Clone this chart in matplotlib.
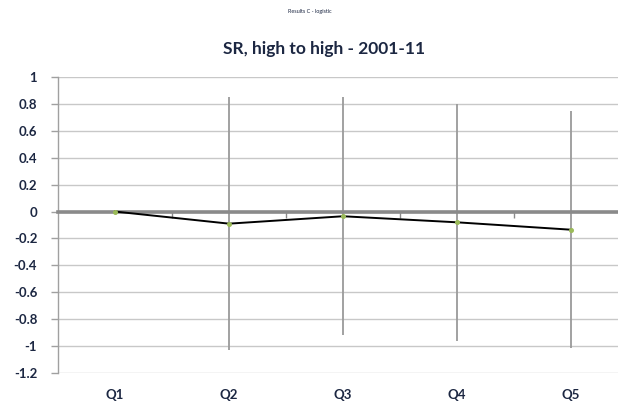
import matplotlib
matplotlib.use("Agg")
import matplotlib.pyplot as plt
from matplotlib.ticker import FixedLocator

plt.rcParams['font.family'] = ['Lato', 'DejaVu Sans']

categories = ["Q1", "Q2", "Q3", "Q4", "Q5"]
values = [0.0, -0.09, -0.035, -0.08, -0.135]
errors = [0.0, 0.94, 0.885, 0.88, 0.88]
yticks = [1, 0.8, 0.6, 0.4, 0.2, 0, -0.2, -0.4, -0.6, -0.8, -1, -1.2]
ytick_labels = ["1", "0.8", "0.6", "0.4", "0.2", "0", "-0.2", "-0.4", "-0.6", "-0.8", "-1", "-1.2"]
title = "SR, high to high - 2001-11"
header = "Results C - logistic"

W, H = 618, 404
fig = plt.figure(figsize=(W / 100, H / 100), dpi=100)
ax = fig.add_axes([58 / W, 1 - 373 / H, (W - 58) / W, (373 - 77) / H])

x = list(range(1, len(categories) + 1))
label_color = "#1c2742"

# error bars (only where non-zero)
ex = [xi for xi, e in zip(x, errors) if e > 0]
ev = [v for v, e in zip(values, errors) if e > 0]
ee = [e for e in errors if e > 0]
ax.errorbar(ex, ev, yerr=ee, fmt="none", ecolor="#9a9a9a", elinewidth=1.3, capsize=0, zorder=2)

ax.plot(x, values, color="black", lw=1.4, zorder=4,
        marker="o", markersize=2.6, markerfacecolor="#9bbb59", markeredgecolor="#9bbb59")

ax.set_xlim(0.5, 0.5 + (W - 58) / 114)
ax.set_ylim(-1.2, 1.0)
ax.set_yticks(yticks)
ax.set_yticklabels(ytick_labels, fontsize=9.5, fontweight="bold", color=label_color)
ax.yaxis.grid(True, color="#c8c8c8", lw=1.0, zorder=0)
ax.set_axisbelow(True)

for s in ["top", "right"]:
    ax.spines[s].set_visible(False)
ax.spines["left"].set_color("#a0a0a0")
ax.spines["left"].set_linewidth(1.0)
ax.spines["bottom"].set_position(("data", 0))
ax.spines["bottom"].set_color("#8a8a8a")
ax.spines["bottom"].set_linewidth(2.6)
ax.spines["bottom"].set_zorder(3)

ax.tick_params(axis="y", length=5, color="#a0a0a0", width=1.0, pad=10)
ax.set_xticks([])
ax.xaxis.set_minor_locator(FixedLocator([i + 0.5 for i in x[:-1]]))
ax.tick_params(axis="x", which="minor", length=4, color="#8a8a8a", width=1.0, direction="out")

trans = ax.get_xaxis_transform()
for xi, c in zip(x, categories):
    ax.text(xi, -0.075, c, transform=trans, ha="center", va="center",
            fontsize=9.5, fontweight="bold", color=label_color)

fig.text(324 / W, 1 - 49 / H, title, ha="center", va="center",
         fontsize=12.5, fontweight="bold", color=label_color)
fig.text(310 / W, 1 - 12 / H, header, ha="center", va="center",
         fontsize=4, color=label_color)

fig.savefig("out.png", dpi=100)
